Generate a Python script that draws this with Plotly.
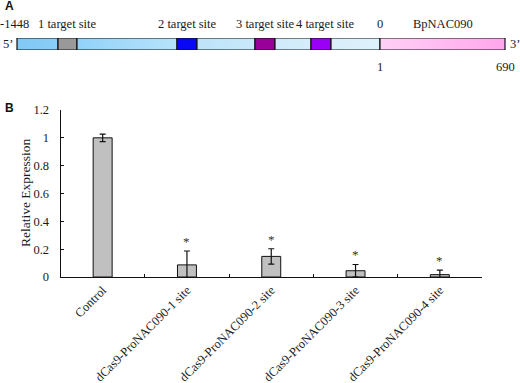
import plotly.graph_objects as go

# ---------------- data ----------------
categories = ["Control", "dCas9-ProNAC090-1 site", "dCas9-ProNAC090-2 site",
              "dCas9-ProNAC090-3 site", "dCas9-ProNAC090-4 site"]
values = [1.0, 0.087, 0.148, 0.045, 0.017]
errors = [0.027, 0.10, 0.055, 0.045, 0.033]
significant = [False, True, True, True, True]
y_ticks = [0, 0.2, 0.4, 0.6, 0.8, 1, 1.2]

# schematic of promoter (panel A): segment lengths in schematic units
seg_lengths = [41, 19, 100, 20, 58, 20, 36, 20, 49, 125]
seg_fill_left = ["#80c8f6", "#999999", "#92d2f9", "#0808f5", "#bde3f9",
                 "#990099", "#cfeafa", "#9a00f5", "#d8eefa", "#ffd0f6"]
seg_fill_right = ["#8acef8", "#999999", "#b6e3fb", "#0808f5", "#c8e9fa",
                  "#990099", "#d6eefb", "#9a00f5", "#ddf1fb", "#ffa6ec"]
seg_top_labels = [None, "1 target site", None, "2 target site", None,
                  "3 target site", None, "4 target site", None, "BpNAC090"]
promoter_start_label = "-1448"
boundary_top_label = "0"
gene_start_label = "1"
gene_end_label = "690"

FONT = "Liberation Serif, Times New Roman, serif"
W, H = 520, 383

fig = go.Figure()

# ---------------- panel A ----------------
starts = []
pos = 0
for L in seg_lengths:
    starts.append(pos)
    pos += L
total = pos

for s, L, c1, c2 in zip(starts, seg_lengths, seg_fill_left, seg_fill_right):
    fig.add_trace(go.Scatter(
        x=[s, s + L, s + L, s, s], y=[0, 0, 1, 1, 0],
        xaxis="x2", yaxis="y2", mode="lines", fill="toself",
        fillgradient=dict(type="horizontal", colorscale=[[0, c1], [1, c2]]),
        line=dict(color="#111111", width=1.2),
        hoverinfo="skip", showlegend=False))

ann = []
tf = dict(family=FONT, size=12.5, color="#1a1a1a")
for s, L, lab in zip(starts, seg_lengths, seg_top_labels):
    if lab:
        ann.append(dict(x=s + L / 2, y=1, xref="x2", yref="y2", text=lab,
                        showarrow=False, yanchor="middle", yshift=14,
                        xshift=4 if lab.startswith("4") else 0, font=tf))
ann.append(dict(x=0, y=1, xref="x2", yref="y2", text=promoter_start_label,
                showarrow=False, yanchor="middle", yshift=14, xshift=-3, font=tf))
ann.append(dict(x=starts[-1], y=1, xref="x2", yref="y2", text=boundary_top_label,
                showarrow=False, yanchor="middle", yshift=14, font=tf))
ann.append(dict(x=starts[-1], y=0, xref="x2", yref="y2", text=gene_start_label,
                showarrow=False, yanchor="middle", yshift=-17, font=tf))
ann.append(dict(x=total, y=0, xref="x2", yref="y2", text=gene_end_label,
                showarrow=False, yanchor="middle", yshift=-17, font=tf))
ann.append(dict(x=0, y=0.5, xref="x2", yref="y2", text="5’",
                showarrow=False, xanchor="right", xshift=-2, font=tf))
ann.append(dict(x=total, y=0.5, xref="x2", yref="y2", text="3’",
                showarrow=False, xanchor="left", xshift=3, font=tf))

# panel letters
ann.append(dict(x=3 / W, y=1 - 6 / H, xref="paper", yref="paper", text="<b>A</b>",
                showarrow=False, xanchor="left", yanchor="middle",
                font=dict(family="Liberation Sans, Arial", size=12, color="#111")))
ann.append(dict(x=3 / W, y=1 - 108 / H, xref="paper", yref="paper", text="<b>B</b>",
                showarrow=False, xanchor="left", yanchor="middle",
                font=dict(family="Liberation Sans, Arial", size=12, color="#111")))

# ---------------- panel B ----------------
fig.add_trace(go.Bar(
    x=categories, y=values,
    error_y=dict(type="data", array=errors, visible=True, color="#111111",
                 thickness=1.2, width=3),
    marker=dict(color="#c0c0c0", line=dict(color="#111111", width=1)),
    width=0.225, showlegend=False, hoverinfo="skip"))

for cat, v, e, sig in zip(categories, values, errors, significant):
    if sig:
        ann.append(dict(x=cat, y=v + e, xref="x", yref="y", text="*",
                        showarrow=False, yanchor="bottom", yshift=0,
                        font=dict(family=FONT, size=13, color="#333333")))

ann.append(dict(x=25 / W, y=(383 - 193) / H, xref="paper", yref="paper",
                text="Relative Expression", textangle=-90, showarrow=False,
                xanchor="center", yanchor="middle",
                font=dict(family=FONT, size=13.5, color="#1a1a1a")))

fig.update_layout(
    template="none",
    width=W, height=H, autosize=False,
    margin=dict(l=0, r=0, t=0, b=0, pad=0),
    paper_bgcolor="white", plot_bgcolor="white",
    font=dict(family=FONT, size=12.5, color="#1a1a1a"),
    annotations=ann,
    xaxis=dict(domain=[60.5 / W, 482 / W], anchor="y", type="category",
               tickson="boundaries", ticks="inside", ticklen=3,
               tickcolor="#111", tickwidth=1, showline=True, linecolor="#111",
               linewidth=1, tickangle=-45, showgrid=False, automargin=False,
               tickfont=dict(family=FONT, size=12.5, color="#1a1a1a")),
    yaxis=dict(domain=[(H - 277) / H, (H - 110) / H], anchor="x",
               range=[0, 1.2], tickvals=y_ticks,
               ticktext=[f"{t:g}" for t in y_ticks],
               ticks="inside", ticklen=3, tickcolor="#111", tickwidth=1,
               showline=True, linecolor="#111", linewidth=1, showgrid=False,
               zeroline=False, ticklabelstandoff=8, automargin=False,
               tickfont=dict(family=FONT, size=12.5, color="#1a1a1a")),
    xaxis2=dict(domain=[0, 1], anchor="y2", range=[-17, W - 17],
                visible=False, fixedrange=True, automargin=False),
    yaxis2=dict(domain=[(H - 50) / H, (H - 38) / H], anchor="x2",
                range=[0, 1], visible=False, fixedrange=True, automargin=False),
)

fig.write_html("out.html", config={"displayModeBar": False},
               post_script="document.body.style.margin='0';document.body.style.overflow='hidden';")
